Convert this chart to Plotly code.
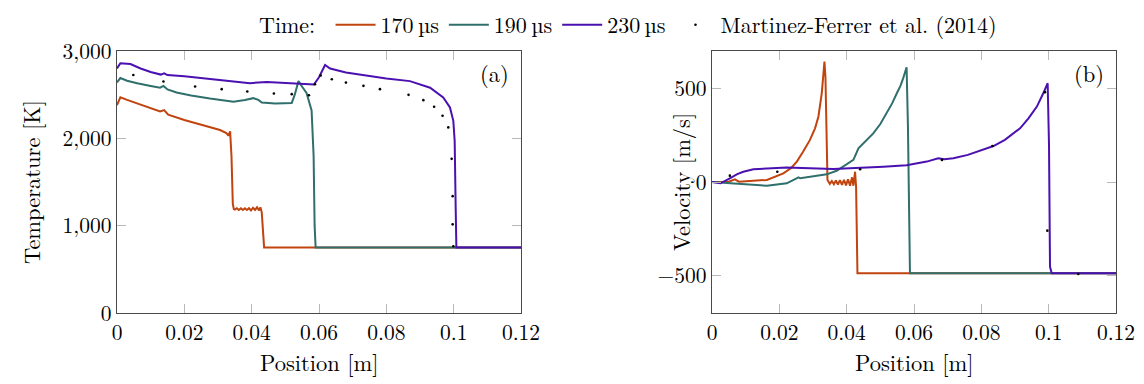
import plotly.graph_objects as go

# ---------------- data: temperature (left panel) ----------------
t170_x = [0, 0.001, 0.003, 0.006, 0.0078, 0.010, 0.0128, 0.0140, 0.0152, 0.020, 0.0227, 0.027, 0.0306,
          0.0325, 0.0331, 0.0336, 0.0340, 0.0344, 0.0347, 0.0350, 0.0356, 0.0362, 0.0368, 0.0374, 0.0380,
          0.0386, 0.0392, 0.0398, 0.0404, 0.0410, 0.0416, 0.0422, 0.0426, 0.0430, 0.0437, 0.12]
t170_T = [2380, 2470, 2440, 2400, 2372, 2340, 2308, 2323, 2270, 2210, 2182, 2135, 2095,
          2060, 2030, 2080, 1800, 1250, 1190, 1185, 1200, 1180, 1200, 1180, 1200,
          1180, 1200, 1175, 1205, 1180, 1210, 1175, 1210, 1150, 750, 750]

t190_x = [0, 0.001, 0.003, 0.006, 0.010, 0.0128, 0.0138, 0.0150, 0.0177, 0.022, 0.0276, 0.031, 0.0346,
          0.038, 0.0405, 0.042, 0.043, 0.047, 0.0519, 0.0528, 0.0539, 0.0550, 0.0563, 0.0578, 0.0584,
          0.0587, 0.0590, 0.12]
t190_T = [2640, 2690, 2660, 2630, 2600, 2580, 2600, 2560, 2524, 2490, 2455, 2435, 2420,
          2440, 2460, 2440, 2410, 2400, 2405, 2500, 2655, 2590, 2520, 2320, 1800,
          1000, 750, 750]

t230_x = [0, 0.001, 0.004, 0.007, 0.010, 0.013, 0.014, 0.015, 0.020, 0.025, 0.030, 0.035, 0.0395,
          0.0445, 0.050, 0.055, 0.0585, 0.0600, 0.0618, 0.0633, 0.068, 0.075, 0.080, 0.087, 0.093,
          0.0969, 0.0989, 0.0999, 0.1003, 0.1006, 0.1008, 0.12]
t230_T = [2800, 2860, 2850, 2800, 2760, 2730, 2745, 2725, 2710, 2690, 2665, 2650, 2632,
          2646, 2635, 2625, 2616, 2700, 2840, 2800, 2755, 2715, 2685, 2655, 2580,
          2467, 2353, 2200, 1970, 1200, 750, 750]

ref_T_x = [0.00485, 0.0138, 0.0232, 0.0311, 0.0387, 0.0466, 0.0519, 0.0570, 0.0588, 0.0605, 0.0638,
           0.0680, 0.0732, 0.0781, 0.0866, 0.0910, 0.0942, 0.0967, 0.0984, 0.0994, 0.0997, 0.0997, 0.0999]
ref_T_y = [2726, 2650, 2593, 2563, 2536, 2513, 2506, 2494, 2620, 2720, 2677,
           2638, 2601, 2563, 2498, 2437, 2361, 2258, 2125, 1765, 1338, 1015, 764]

# ---------------- data: velocity (right panel) ----------------
v170_x = [0, 0.005, 0.0068, 0.0080, 0.0163, 0.0190, 0.0212, 0.0235, 0.0252, 0.0270, 0.0291, 0.0306,
          0.0316, 0.0326, 0.0331, 0.0334, 0.0337,
          0.0343, 0.0350, 0.0356, 0.0362, 0.0368, 0.0374, 0.0380, 0.0386, 0.0392, 0.0398, 0.0404,
          0.0410, 0.0416, 0.0420, 0.0425, 0.0428, 0.0432, 0.12]
v170_v = [0, 2, 14, 2, 11, 28, 46, 75, 109, 160, 225, 287,
          349, 474, 563, 643, 560,
          11, -10, 5, -12, 8, -14, 10, -15, 12, -18, 15,
          -20, 25, -20, 55, -25, -488, -488]

v190_x = [0, 0.008, 0.0163, 0.0222, 0.0257, 0.0262, 0.0300, 0.0341, 0.0370, 0.039, 0.042, 0.0435,
          0.0455, 0.0479, 0.0500, 0.0519, 0.0535, 0.0549, 0.0560, 0.0568, 0.0578, 0.0582, 0.0586,
          0.0588, 0.12]
v190_v = [0, -8, -20, -7, 25, 20, 32, 41, 60, 82, 118, 180,
          215, 260, 310, 367, 420, 474, 515, 555, 613, 300, -300,
          -488, -488]

v230_x = [0, 0.0025, 0.0053, 0.0075, 0.0093, 0.0123, 0.0222, 0.036, 0.0509, 0.0578, 0.0638, 0.0672,
          0.0690, 0.0717, 0.0760, 0.0800, 0.0836, 0.0870, 0.0915, 0.0940, 0.0965, 0.0984, 0.0997,
          0.1001, 0.1004, 0.1009, 0.12]
v230_v = [0, -7, 20, 42, 55, 68, 77, 70, 82, 89, 109, 127,
          122, 127, 145, 168, 192, 225, 287, 340, 403, 474, 528,
          200, -453, -488, -488]

ref_v_x = [0.0053, 0.0194, 0.0440, 0.0683, 0.0833, 0.0989, 0.0996, 0.1088]
ref_v_y = [34, 55, 68, 118, 192, 480, -260, -492]

x_ticks = [0, 0.02, 0.04, 0.06, 0.08, 0.1, 0.12]
x_tick_text = ["0", "0.02", "0.04", "0.06", "0.08", "0.1", "0.12"]
T_ticks = [0, 1000, 2000, 3000]
T_tick_text = ["0", "1,000", "2,000", "3,000"]
v_ticks = [-500, 0, 500]
v_tick_text = ["\u2212500", "0", "500"]

series_names = ["170\u2009\u00b5s", "190\u2009\u00b5s", "230\u2009\u00b5s"]
ref_name = "Martinez-Ferrer et al. (2014)"

# ---------------- style ----------------
C_OR = "#C1440E"
C_TE = "#2F6F6C"
C_PU = "#4B10B0"
FONT = "Latin Modern Roman"
FS_TICK = 21.5
FS = 22.5
FS_LEG = 22
FRAME = "#4A4A4A"
TICKC = "#B8B8B8"

# the page body has an 8px margin: lay out in page pixels minus that offset
OFF = 8
W, H = 1144 - OFF, 384 - OFF


def px_x(p):
    return (p - OFF) / W


def px_y(p):
    return 1 - (p - OFF) / H


fig = go.Figure()

for xs, ys, name, col in [(t170_x, t170_T, series_names[0], C_OR),
                          (t190_x, t190_T, series_names[1], C_TE),
                          (t230_x, t230_T, series_names[2], C_PU)]:
    fig.add_trace(go.Scatter(x=xs, y=ys, mode="lines", name=name,
                             line=dict(color=col, width=2), xaxis="x", yaxis="y",
                             legendgroup=name))
fig.add_trace(go.Scatter(x=ref_T_x, y=ref_T_y, mode="markers", name=ref_name,
                         marker=dict(color="black", size=2.6), xaxis="x", yaxis="y",
                         legendgroup="ref"))

for xs, ys, name, col in [(v170_x, v170_v, series_names[0], C_OR),
                          (v190_x, v190_v, series_names[1], C_TE),
                          (v230_x, v230_v, series_names[2], C_PU)]:
    fig.add_trace(go.Scatter(x=xs, y=ys, mode="lines", name=name, showlegend=False,
                             line=dict(color=col, width=2), xaxis="x2", yaxis="y2",
                             legendgroup=name))
fig.add_trace(go.Scatter(x=ref_v_x, y=ref_v_y, mode="markers", name=ref_name, showlegend=False,
                         marker=dict(color="black", size=2.6), xaxis="x2", yaxis="y2",
                         legendgroup="ref"))

x1 = (px_x(117), px_x(521))
x2 = (px_x(712), px_x(1116))
yd = (px_y(313), px_y(51))

axis_common = dict(showline=True, linecolor=FRAME, linewidth=1.3, mirror="ticks",
                   ticks="inside", ticklen=9, tickwidth=1.3, tickcolor=TICKC,
                   showgrid=False, zeroline=False, automargin=False,
                   tickfont=dict(family=FONT, size=FS_TICK, color="black"))

fig.update_layout(
    width=W, height=H,
    margin=dict(l=0, r=0, t=0, b=0, autoexpand=False),
    paper_bgcolor="white", plot_bgcolor="white",
    font=dict(family=FONT, size=FS, color="black"),
    xaxis=dict(domain=x1, range=[0, 0.12], tickvals=x_ticks, ticktext=x_tick_text,
               anchor="y", **axis_common),
    yaxis=dict(domain=yd, range=[0, 3000], tickvals=T_ticks, ticktext=T_tick_text,
               anchor="x", **axis_common),
    xaxis2=dict(domain=x2, range=[0, 0.12], tickvals=x_ticks, ticktext=x_tick_text,
                anchor="y2", **axis_common),
    yaxis2=dict(domain=yd, range=[-700, 700], tickvals=v_ticks, ticktext=v_tick_text,
                anchor="x2", **axis_common),
    showlegend=True,
    legend=dict(orientation="h", x=px_x(257), xanchor="left", y=1 + 4 / H, yanchor="top",
                title=dict(text="Time: ", font=dict(family=FONT, size=FS_LEG)),
                font=dict(family=FONT, size=FS_LEG), bgcolor="rgba(0,0,0,0)",
                itemwidth=40, tracegroupgap=0),
    annotations=[
        dict(text="(a)", xref="x domain", yref="y domain", x=0.975, y=0.915,
             xanchor="right", yanchor="middle", showarrow=False, font=dict(family=FONT, size=FS)),
        dict(text="(b)", xref="x2 domain", yref="y2 domain", x=0.975, y=0.915,
             xanchor="right", yanchor="middle", showarrow=False, font=dict(family=FONT, size=FS)),
        dict(text="Position [m]", xref="x domain", yref="paper", x=0.5, y=px_y(362),
             xanchor="center", yanchor="middle", showarrow=False, font=dict(family=FONT, size=FS)),
        dict(text="Position [m]", xref="x2 domain", yref="paper", x=0.5, y=px_y(362),
             xanchor="center", yanchor="middle", showarrow=False, font=dict(family=FONT, size=FS)),
        dict(text="Temperature [K]", xref="paper", yref="y domain", x=px_x(31), y=0.5, textangle=-90,
             xanchor="center", yanchor="middle", showarrow=False, font=dict(family=FONT, size=FS)),
        dict(text="Velocity [m/s]", xref="paper", yref="y2 domain", x=px_x(681), y=0.5, textangle=-90,
             xanchor="center", yanchor="middle", showarrow=False, font=dict(family=FONT, size=FS)),
    ],
)

fig.write_html("out.html")
